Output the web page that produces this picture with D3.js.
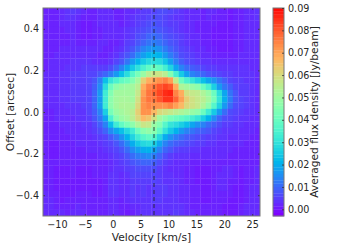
<!DOCTYPE html>
<html>
<head>
<meta charset="utf-8">
<script src="https://cdn.jsdelivr.net/npm/d3@7"></script>
<style>
  html, body { margin: 0; padding: 0; background: #fff; }
  svg { display: block; }
  text { font-family: "DejaVu Sans", sans-serif; fill: #262626; }
</style>
</head>
<body>
<div id="chart"></div>
<script>
// averaged flux in mJy/beam, rows from top offset to bottom offset
const flux = [
  [1,1,1,2,3,4,3,2,1,1,2,2,2,1,1,2,2,3,4,4,5,6,6,5,4,3,2,2,2,1,2,2,1,1,0,1,1,2,2,3],
  [1,1,1,2,3,3,2,1,1,1,2,2,2,1,1,2,3,4,4,5,6,6,5,4,3,3,2,2,2,1,2,1,1,1,0,1,1,2,2,3],
  [1,1,1,2,2,2,1,0,0,1,2,2,2,2,1,2,3,4,5,6,7,6,5,4,4,3,2,2,1,1,1,1,0,0,0,1,1,2,2,2],
  [1,1,1,1,2,2,1,0,0,1,1,2,2,2,2,3,4,5,6,7,8,7,6,5,4,3,2,2,1,1,1,0,0,0,0,1,1,2,2,2],
  [1,1,1,1,1,2,1,0,0,1,1,2,2,2,2,3,4,6,7,9,10,9,7,6,5,4,3,2,2,1,1,0,0,0,0,1,1,2,2,2],
  [1,1,1,1,1,2,1,1,1,1,2,2,1,1,2,4,5,7,9,11,12,11,9,7,6,4,3,2,2,1,1,0,0,0,0,1,1,2,2,2],
  [1,1,1,2,2,2,2,2,2,2,2,1,1,2,3,5,7,10,13,15,16,15,12,9,7,5,4,3,2,2,1,1,0,0,0,1,1,2,2,2],
  [1,1,2,2,2,2,2,2,2,2,1,1,2,3,5,7,10,14,17,20,21,20,16,12,9,6,5,4,3,2,2,1,1,1,1,1,2,2,2,2],
  [1,2,2,2,2,3,3,3,3,2,2,2,3,5,7,11,16,20,24,27,28,27,23,17,12,8,6,5,4,3,3,2,2,2,2,2,2,2,2,2],
  [1,2,2,2,3,3,3,4,4,4,4,4,6,9,13,18,24,29,34,38,40,38,33,26,18,13,10,8,7,5,4,4,3,3,3,3,3,3,2,2],
  [2,2,2,3,3,4,4,4,5,5,7,9,12,16,22,28,36,42,48,54,57,57,54,44,33,24,17,13,11,9,7,6,5,4,4,3,3,3,3,2],
  [2,2,2,3,3,4,4,4,5,7,12,22,30,34,38,40,44,50,62,68,70,72,74,70,55,40,34,30,26,22,18,15,11,8,5,4,4,3,3,2],
  [2,2,2,3,3,4,4,4,5,8,14,28,40,46,48,49,50,54,68,74,76,80,82,80,68,52,50,48,46,40,34,25,16,11,8,5,4,4,3,2],
  [2,2,2,3,3,4,4,4,5,9,16,32,44,50,50,50,50,56,70,76,78,82,85,86,74,68,58,56,55,52,48,40,28,18,11,7,4,4,3,2],
  [2,2,2,3,3,4,4,4,5,9,16,32,46,50,51,51,50,58,72,76,76,80,84,84,78,70,62,58,56,54,50,42,30,19,12,7,5,4,3,2],
  [2,2,2,2,3,3,3,4,5,9,16,32,46,50,52,52,52,60,72,74,72,72,72,74,70,66,60,58,56,52,46,36,26,16,10,6,5,4,3,2],
  [1,1,2,2,2,3,3,3,5,8,13,25,42,48,50,52,54,62,72,72,66,60,58,56,54,52,50,48,46,40,32,24,16,10,6,5,4,3,3,2],
  [1,1,2,2,2,2,3,3,4,7,11,18,34,44,48,50,54,60,66,64,58,50,46,42,40,38,36,33,30,25,20,14,9,6,5,4,3,3,2,2],
  [1,1,1,2,2,2,2,3,3,5,8,13,22,32,38,42,46,52,57,56,48,44,36,30,28,25,22,18,15,13,10,8,6,4,4,3,3,2,2,2],
  [1,1,1,1,2,2,2,2,3,4,6,9,14,18,22,27,32,40,45,47,45,38,30,24,20,16,13,11,9,8,7,5,4,3,3,3,2,2,2,1],
  [1,1,1,1,1,2,2,2,2,3,4,5,8,11,15,20,26,32,36,38,35,27,19,15,12,10,8,7,6,5,4,4,3,3,2,2,2,2,1,1],
  [1,0,0,1,1,1,2,2,2,2,3,4,5,7,10,14,19,24,27,28,25,18,13,10,8,7,6,5,4,4,3,3,2,2,2,2,2,1,1,1],
  [1,0,0,1,1,1,1,1,2,2,2,3,4,5,7,10,14,17,19,20,17,13,9,7,5,4,4,3,3,2,2,2,2,2,2,1,1,1,1,1],
  [1,0,0,1,1,1,1,1,1,1,2,2,3,4,5,7,10,12,13,14,12,9,6,4,3,3,3,2,2,2,2,2,2,2,1,1,1,1,1,1],
  [1,1,1,1,1,1,1,1,1,1,1,1,2,3,4,5,7,8,9,9,8,6,4,3,2,2,2,1,1,1,1,1,1,1,1,1,1,1,1,1],
  [1,1,0,0,0,1,0,0,0,1,1,1,2,3,3,4,5,6,6,6,6,4,3,2,2,2,1,1,0,0,0,1,1,2,2,1,0,1,1,2],
  [1,1,0,0,0,1,0,0,0,1,1,1,3,3,2,3,5,5,5,5,5,4,3,3,2,2,1,1,0,0,0,1,2,2,2,1,0,1,1,2],
  [1,1,0,0,0,0,0,0,0,0,0,1,3,3,2,2,4,4,4,4,5,4,3,3,3,2,1,1,0,0,0,1,2,2,1,1,0,1,1,2],
  [1,1,0,0,0,0,0,0,0,0,0,1,3,3,2,2,4,3,4,3,4,4,4,3,3,2,2,1,1,0,0,1,2,2,1,0,0,1,2,2],
  [2,1,1,0,0,0,1,1,1,0,0,1,3,3,2,2,4,3,4,3,4,4,4,3,3,2,2,1,1,0,0,1,1,1,1,0,0,1,2,2],
  [2,2,1,0,1,1,1,1,1,1,1,1,2,2,1,2,3,3,3,3,4,4,3,3,3,2,2,1,1,0,0,1,1,1,0,0,0,1,2,2],
  [2,2,1,1,1,1,2,1,1,1,1,1,2,2,1,1,2,2,3,3,3,3,3,3,3,3,2,1,1,1,1,1,1,0,0,0,1,2,2,2],
  [2,2,2,2,1,2,2,2,1,1,1,1,2,2,1,0,1,2,3,3,3,3,3,3,4,3,2,2,1,1,1,1,1,0,0,0,1,2,2,2]
];
const velocityRange = [-12.5, 26.4];
const offsetRange = [-0.5, 0.5];
const fluxRange = [-0.003, 0.09];
const velocityTicks = [-10, -5, 0, 5, 10, 15, 20, 25];
const offsetTicks = [-0.4, -0.2, 0, 0.2, 0.4];
const fluxTicks = [0, 0.01, 0.02, 0.03, 0.04, 0.05, 0.06, 0.07, 0.08, 0.09];
const systemicVelocity = 7.4;

const width = 349, height = 244;
const margin = { top: 8, left: 43, bottom: 216, right: 260 };
const cbar = { left: 273, right: 284 };

const svg = d3.select("#chart").append("svg")
  .attr("width", width)
  .attr("height", height);

const x = d3.scaleLinear().domain(velocityRange).range([margin.left, margin.right]);
const y = d3.scaleLinear().domain(offsetRange).range([margin.bottom, margin.top]);
const cy = d3.scaleLinear().domain(fluxRange).range([margin.bottom, margin.top]);
// matplotlib rainbow
const color = d3.scaleSequential(t => d3.rgb(
  Math.min(1, Math.abs(2 * t - 0.5)) * 255,
  Math.sin(Math.PI * t) * 255,
  Math.cos(Math.PI * t / 2) * 255
)).domain(fluxRange);

const cols = flux[0].length, rows = flux.length;
const dv = (velocityRange[1] - velocityRange[0]) / cols;
const dy = (offsetRange[1] - offsetRange[0]) / rows;

const cells = [];
flux.forEach((row, i) => row.forEach((d, j) => {
  cells.push({
    v0: velocityRange[0] + j * dv,
    v1: velocityRange[0] + (j + 1) * dv,
    o0: offsetRange[1] - i * dy,
    o1: offsetRange[1] - (i + 1) * dy,
    value: d / 1000
  });
}));

// small overlap so the seams between cells stay faint
svg.append("g").selectAll("rect")
  .data(cells)
  .join("rect")
  .attr("x", d => x(d.v0))
  .attr("y", d => y(d.o0))
  .attr("width", d => Math.min(x(d.v1) - x(d.v0) + 0.25, margin.right - x(d.v0)))
  .attr("height", d => Math.min(y(d.o1) - y(d.o0) + 0.25, margin.bottom - y(d.o0)))
  .attr("fill", d => color(d.value));

svg.append("line")
  .attr("x1", x(systemicVelocity))
  .attr("x2", x(systemicVelocity))
  .attr("y1", margin.top)
  .attr("y2", margin.bottom)
  .attr("stroke", "#222")
  .attr("stroke-opacity", 0.85)
  .attr("stroke-dasharray", "4,3");

// axes, ticks point into the frame on all four sides
const styleAxis = g => {
  g.select(".domain").remove();
  g.selectAll("line").attr("stroke", "#333").attr("stroke-width", 0.8);
  g.selectAll("text").style("font-size", "9.6px");
};

svg.append("g")
  .attr("transform", "translate(0," + margin.bottom + ")")
  .call(d3.axisBottom(x).tickValues(velocityTicks).tickSize(-2).tickPadding(5))
  .call(styleAxis);
svg.append("g")
  .attr("transform", "translate(0," + margin.top + ")")
  .call(d3.axisTop(x).tickValues(velocityTicks).tickSize(-2).tickFormat(""))
  .call(styleAxis);
svg.append("g")
  .attr("transform", "translate(" + margin.left + ",0)")
  .call(d3.axisLeft(y).tickValues(offsetTicks).tickSize(-2).tickPadding(4).tickFormat(d3.format(".1f")))
  .call(styleAxis);
svg.append("g")
  .attr("transform", "translate(" + margin.right + ",0)")
  .call(d3.axisRight(y).tickValues(offsetTicks).tickSize(-2).tickFormat(""))
  .call(styleAxis);

svg.append("rect")
  .attr("x", margin.left)
  .attr("y", margin.top)
  .attr("width", margin.right - margin.left)
  .attr("height", margin.bottom - margin.top)
  .attr("fill", "none")
  .attr("stroke", "#777")
  .attr("stroke-width", 1);

svg.append("text")
  .attr("x", (margin.left + margin.right) / 2)
  .attr("y", 241)
  .attr("text-anchor", "middle")
  .style("font-size", "10.7px")
  .text("Velocity [km/s]");

svg.append("text")
  .attr("transform", "translate(14," + ((margin.top + margin.bottom) / 2) + ") rotate(-90)")
  .attr("text-anchor", "middle")
  .style("font-size", "10.7px")
  .text("Offset [arcsec]");

// colorbar
const steps = d3.range(fluxRange[0], fluxRange[1], (fluxRange[1] - fluxRange[0]) / 64);
svg.append("g").selectAll("rect")
  .data(steps)
  .join("rect")
  .attr("x", cbar.left)
  .attr("width", cbar.right - cbar.left)
  .attr("y", d => cy(d + (fluxRange[1] - fluxRange[0]) / 64))
  .attr("height", (margin.bottom - margin.top) / 64 + 0.3)
  .attr("fill", d => color(d));

svg.append("rect")
  .attr("x", cbar.left)
  .attr("y", margin.top)
  .attr("width", cbar.right - cbar.left)
  .attr("height", margin.bottom - margin.top)
  .attr("fill", "none")
  .attr("stroke", "#777");

svg.append("g")
  .attr("transform", "translate(" + cbar.right + ",0)")
  .call(d3.axisRight(cy).tickValues(fluxTicks).tickSize(-2).tickPadding(4).tickFormat(d3.format(".2f")))
  .call(styleAxis);

svg.append("text")
  .attr("transform", "translate(318," + ((margin.top + margin.bottom) / 2) + ") rotate(-90)")
  .attr("text-anchor", "middle")
  .style("font-size", "10.7px")
  .text("Averaged flux density [Jy/beam]");
</script>
</body>
</html>
